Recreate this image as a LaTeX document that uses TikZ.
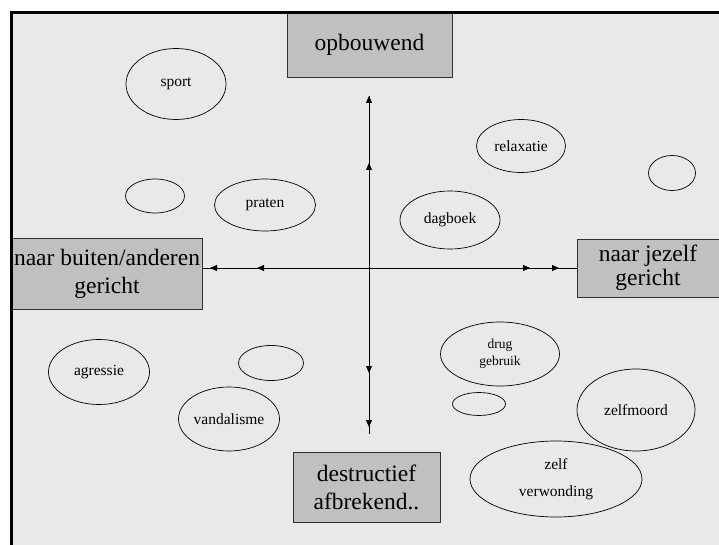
\documentclass[tikz,border=0pt]{standalone}
\usepackage{fontspec}
\setmainfont{Liberation Serif}
\usetikzlibrary{shapes.geometric,arrows.meta}
\definecolor{bggray}{HTML}{E9E9E9}
\definecolor{boxgray}{HTML}{C0C0C0}
\definecolor{boxline}{HTML}{303030}
\begin{document}
\begin{tikzpicture}[x=1pt,y=-1pt,
  boxnode/.style={draw=boxline,line width=0.9pt,fill=boxgray,inner sep=0pt,align=center,
    font=\fontsize{23.5}{28}\selectfont},
  oval/.style={draw=black,line width=0.7pt,ellipse,inner sep=0pt,align=center,
    font=\fontsize{15.5}{27}\selectfont},
  axis/.style={line width=0.8pt,black},
  tip/.style={axis,-{Triangle[length=7pt,width=6pt]}}]
\useasboundingbox (0,0) rectangle (719,545);
\fill[white] (0,0) rectangle (719,545);
\fill[bggray] (10,13) rectangle (719,545);
% boxes
\node[boxnode,minimum width=165pt,minimum height=64pt] (up) at (369.5,45) {opbouwend};
\node[boxnode,minimum width=190pt,minimum height=71pt] (left) at (107,273.5) {naar buiten/anderen\\gericht};
\begin{scope}
\clip (0,0) rectangle (719,545);
\node[boxnode,minimum width=150pt,minimum height=58pt] (right) at (652,268) {};
\end{scope}
\node[font=\fontsize{23.5}{24.5}\selectfont,align=center] (righttext) at (648,268) {naar jezelf\\gericht};
\node[boxnode,minimum width=147pt,minimum height=70pt] (down) at (366.5,487.5) {destructief\\afbrekend..};
% frame
\draw[line width=3pt] (11.5,545) -- (11.5,13) -- (719,13);
% ellipses
\node[oval,minimum width=100pt,minimum height=71pt] (sport) at (176,84) {sport};
\node[oval,minimum width=89pt,minimum height=53pt] (relax) at (521,146) {relaxatie};
\node[oval,minimum width=47pt,minimum height=35pt] (e1) at (672,173) {};
\node[oval,minimum width=59pt,minimum height=34pt] (e2) at (155,196) {};
\node[oval,minimum width=101pt,minimum height=52pt] (praten) at (265,205) {praten};
\node[oval,minimum width=100pt,minimum height=58pt] (dagboek) at (450,220) {dagboek};
\node[oval,minimum width=101pt,minimum height=65pt] (agressie) at (99,372) {agressie};
\node[oval,minimum width=65pt,minimum height=35pt] (e3) at (271,363) {};
\node[oval,minimum width=101pt,minimum height=64pt] (vandal) at (229,419) {vandalisme};
\node[oval,minimum width=119pt,minimum height=64pt,font=\fontsize{13.5}{17}\selectfont] (drug) at (500,354) {drug\\gebruik};
\node[oval,minimum width=53pt,minimum height=23pt] (e4) at (479,404) {};
\node[oval,minimum width=118pt,minimum height=82pt] (zelfmoord) at (636,410) {zelfmoord};
\node[oval,minimum width=172pt,minimum height=76pt] (zelfv) at (556,479) {zelf\\verwonding};
% axes
\coordinate (c) at (369,268);
\coordinate (vtop) at (369,96);
\coordinate (vtop2) at (369,163);
\coordinate (vbot) at (369,434);
\coordinate (vbot1) at (369,373);
\coordinate (vbot2) at (369,427);
\coordinate (hl1) at (210,268);
\coordinate (hl2) at (257,268);
\coordinate (hr1) at (530,268);
\coordinate (hr2) at (559,268);
\coordinate (hlend) at (left.east |- c);
\coordinate (hrend) at (right.west |- c);
\draw[axis] (vtop) -- (vbot);
\draw[axis] (hlend) -- (hrend);
\draw[tip] (c) -- (vtop);
\draw[tip] (c) -- (vtop2);
\draw[tip] (c) -- (vbot1);
\draw[tip] (c) -- (vbot2);
\draw[tip] (c) -- (hl1);
\draw[tip] (c) -- (hl2);
\draw[tip] (c) -- (hr1);
\draw[tip] (c) -- (hr2);
\end{tikzpicture}
\end{document}
